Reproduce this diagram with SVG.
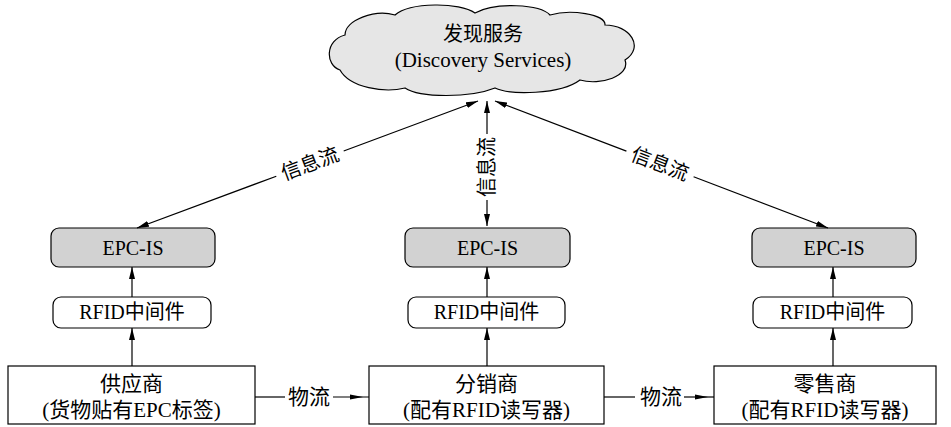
<svg xmlns="http://www.w3.org/2000/svg" width="951" height="427" viewBox="0 0 951 427">
<style>
text{font-family:"Liberation Serif","Noto Sans CJK SC",serif;fill:#000;text-anchor:middle}
.ln{stroke:#000;stroke-width:1.2;fill:none}
.box{stroke:#000;stroke-width:1.2;fill:#fff}
.epc{stroke:#000;stroke-width:1.2;fill:#d2d2d2}
.t19{font-size:20px}
.t20{font-size:20px}
.t21{font-size:21px}
</style>
<defs>
<marker id="ah" viewBox="0 0 12 6" refX="12" refY="3" markerWidth="12" markerHeight="6" markerUnits="userSpaceOnUse" orient="auto-start-reverse">
<path d="M0,0 L12,3 L0,6 z" fill="#000"/>
</marker>
</defs>
<rect width="951" height="427" fill="#fff"/>
<g id="cloud">
<path d="M340,70 C325,65 325,40 345,35 C345,20 375,9 395,15 C410,2 460,2 475,13 C495,2 540,4 550,15 C570,9 606,14 605,25 C630,25 645,47 625,60 C631,76 600,86 580,80 C560,95 510,95 495,88 C470,98 420,98 405,88 C385,93 350,88 340,70 Z" fill="#e6e6e6" stroke="#000" stroke-width="1.2"/>
<text class="t20" x="483" y="41">发现服务</text>
<text class="t21" x="483" y="67">(Discovery Services)</text>
</g>
<g id="epc1"><rect class="epc" x="51" y="228" width="164" height="39" rx="8"/><text class="t19" x="133" y="255">EPC-IS</text></g>
<g id="epc2"><rect class="epc" x="405" y="228" width="165" height="39" rx="8"/><text class="t19" x="487.5" y="255">EPC-IS</text></g>
<g id="epc3"><rect class="epc" x="752" y="228" width="164" height="39" rx="8"/><text class="t19" x="834" y="255">EPC-IS</text></g>
<g id="mw1"><rect class="box" x="53" y="297" width="158" height="31" rx="8"/><text class="t20" x="132" y="319">RFID中间件</text></g>
<g id="mw2"><rect class="box" x="408" y="297" width="157" height="31" rx="8"/><text class="t20" x="486.5" y="319">RFID中间件</text></g>
<g id="mw3"><rect class="box" x="753" y="297" width="159" height="31" rx="8"/><text class="t20" x="832.5" y="319">RFID中间件</text></g>
<g id="supplier"><rect class="box" x="8" y="366" width="247" height="58"/><text class="t21" x="131.5" y="391">供应商</text><text class="t21" x="131.5" y="417">(货物贴有EPC标签)</text></g>
<g id="distributor"><rect class="box" x="369" y="366" width="235" height="58"/><text class="t21" x="486.5" y="391">分销商</text><text class="t21" x="486.5" y="417">(配有RFID读写器)</text></g>
<g id="retailer"><rect class="box" x="714" y="366" width="222" height="58"/><text class="t21" x="825" y="391">零售商</text><text class="t21" x="825" y="417">(配有RFID读写器)</text></g>
<g id="connectors">
<line class="ln" x1="343.7" y1="151" x2="478" y2="101" marker-end="url(#ah)"/>
<line class="ln" x1="276.3" y1="176.2" x2="137" y2="228" marker-end="url(#ah)"/>
<text class="t20" transform="translate(310,163.6) rotate(-20.4)" dy="7">信息流</text>
<line class="ln" x1="626.4" y1="151.1" x2="495" y2="101" marker-end="url(#ah)"/>
<line class="ln" x1="693.6" y1="176.7" x2="828" y2="228" marker-end="url(#ah)"/>
<text class="t20" transform="translate(660,163.9) rotate(20.9)" dy="7">信息流</text>
<line class="ln" x1="487" y1="134" x2="487" y2="101" marker-end="url(#ah)"/>
<line class="ln" x1="487" y1="200" x2="487" y2="226" marker-end="url(#ah)"/>
<text class="t20" transform="translate(487,167) rotate(-90)" dy="7">信息流</text>
<line class="ln" x1="132" y1="366" x2="132" y2="328" marker-end="url(#ah)"/>
<line class="ln" x1="132" y1="297" x2="132" y2="267" marker-end="url(#ah)"/>
<line class="ln" x1="487" y1="366" x2="487" y2="328" marker-end="url(#ah)"/>
<line class="ln" x1="487" y1="297" x2="487" y2="267" marker-end="url(#ah)"/>
<line class="ln" x1="833" y1="366" x2="833" y2="328" marker-end="url(#ah)"/>
<line class="ln" x1="833" y1="297" x2="833" y2="267" marker-end="url(#ah)"/>
<line class="ln" x1="255" y1="397" x2="285" y2="397"/>
<text class="t21" x="309" y="404">物流</text>
<line class="ln" x1="333" y1="397" x2="369" y2="397"/>
<path d="M350,394.5 L363,397 L350,399.5 z" fill="#000"/>
<line class="ln" x1="604" y1="397" x2="635" y2="397"/>
<text class="t21" x="661" y="404">物流</text>
<line class="ln" x1="684" y1="397" x2="714" y2="397"/>
<path d="M695,394.5 L708,397 L695,399.5 z" fill="#000"/>
</g>
</svg>
